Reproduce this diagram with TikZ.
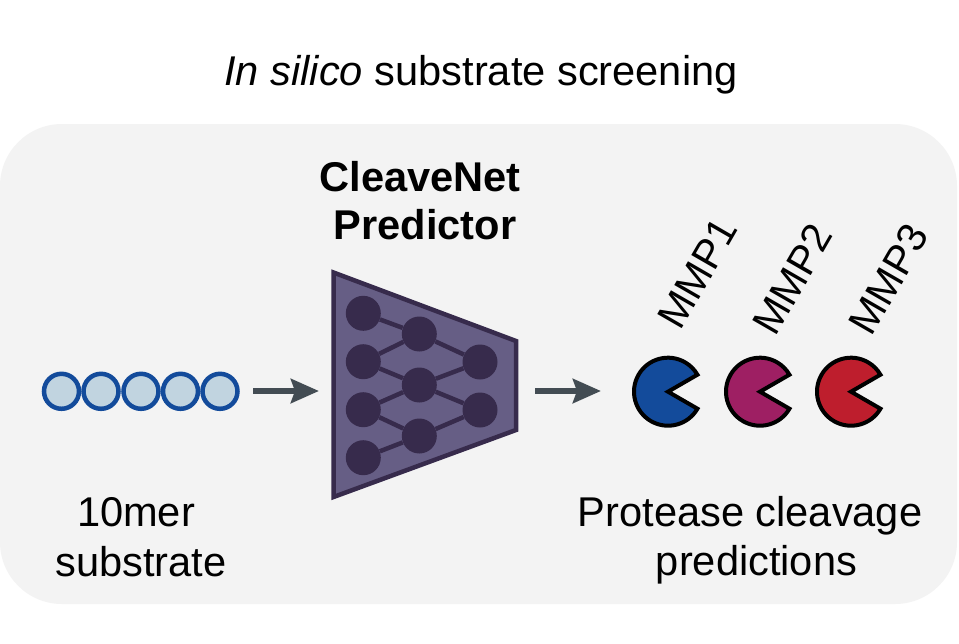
\documentclass[tikz,border=0pt]{standalone}
\usepackage{fontspec}
\setmainfont{Liberation Sans}
\usetikzlibrary{arrows.meta}
\definecolor{panel}{HTML}{F3F3F3}
\definecolor{netfill}{HTML}{665E85}
\definecolor{netdark}{HTML}{372B4C}
\definecolor{arrowgrey}{HTML}{434C53}
\definecolor{subfill}{HTML}{C1D4E0}
\definecolor{mblue}{HTML}{134B9B}
\definecolor{mpurple}{HTML}{9E1F63}
\definecolor{mred}{HTML}{BE1E2D}
\tikzset{
  txt/.style={inner sep=0pt,font=\fontsize{41.6}{49.5}\selectfont,align=center,text=black},
  mmp/.style={inner sep=0pt,font=\fontsize{41}{41}\selectfont,rotate=60,anchor=base west,text=black},
  neuron/.style={circle,fill=netdark,minimum size=35pt,inner sep=0pt},
  link/.style={draw=netdark,line width=4.5pt},
  residue/.style={circle,draw=mblue,fill=subfill,line width=4.5pt,minimum size=35pt,inner sep=0pt},
  flow/.style={draw=arrowgrey,line width=6pt,-{Stealth[length=28pt,width=24pt,inset=4pt]}},
  pac/.style={draw=black,line width=4pt,miter limit=10}
}
\begin{document}
\begin{tikzpicture}[x=1pt,y=-1pt]
\useasboundingbox (0,0) rectangle (959,643);
\fill[white] (0,0) rectangle (959,643);
\fill[panel,rounded corners=62pt] (0,124) rectangle (957,604);
\node[txt] (title) at (481,75) {\textit{In silico} substrate screening};
\node[txt,font=\fontsize{41.6}{48.5}\selectfont\bfseries] (net) at (420,200.5) {CleaveNet\\\hspace{10pt}Predictor};
\node[txt] (sub) at (141,537) {\mbox{10mer\hspace{10pt}}\\substrate};
\node[txt] (pred) at (750,540) {Protease cleavage\\\hspace{13pt}predictions};
% substrate
\foreach \n/\x in {1/61.5,2/101,3/141,4/180.5,5/220}
  \node[residue] (s\n) at (\x,391.3) {};
% network
\draw[fill=netfill,draw=netdark,line width=4.5pt,miter limit=10] (333.5,272.5) -- (516,341) -- (516,430) -- (333.5,497) -- cycle;
\foreach \n/\y in {1/313.3,2/361.7,3/409.7,4/457.7}
  \node[neuron] (l\n) at (363.3,\y) {};
\foreach \n/\y in {1/334,2/385,3/436}
  \node[neuron] (m\n) at (419.3,\y) {};
\foreach \n/\y in {1/362,2/410}
  \node[neuron] (r\n) at (480,\y) {};
\foreach \a/\b in {l1/m1,l2/m1,l2/m2,l3/m2,l3/m3,l4/m3,m1/r1,m2/r1,m2/r2,m3/r2}
  \draw[link] (\a) -- (\b);
% arrows
\coordinate (a1) at (253,391);
\coordinate (a2) at (319,391);
\coordinate (b1) at (535,391);
\coordinate (b2) at (601,391);
\draw[flow] (a1) -- (a2);
\draw[flow] (b1) -- (b2);
% proteases
\foreach \c/\x in {mblue/668,mpurple/760,mred/851}
  \draw[pac,fill=\c] (\x,391.7) -- ++(30:34) arc[start angle=30,end angle=330,radius=34] -- cycle;
\node[mmp] (p1) at (680,332) {MMP1};
\node[mmp] (p2) at (775,338) {MMP2};
\node[mmp] (p3) at (871,338) {MMP3};
\end{tikzpicture}
\end{document}
